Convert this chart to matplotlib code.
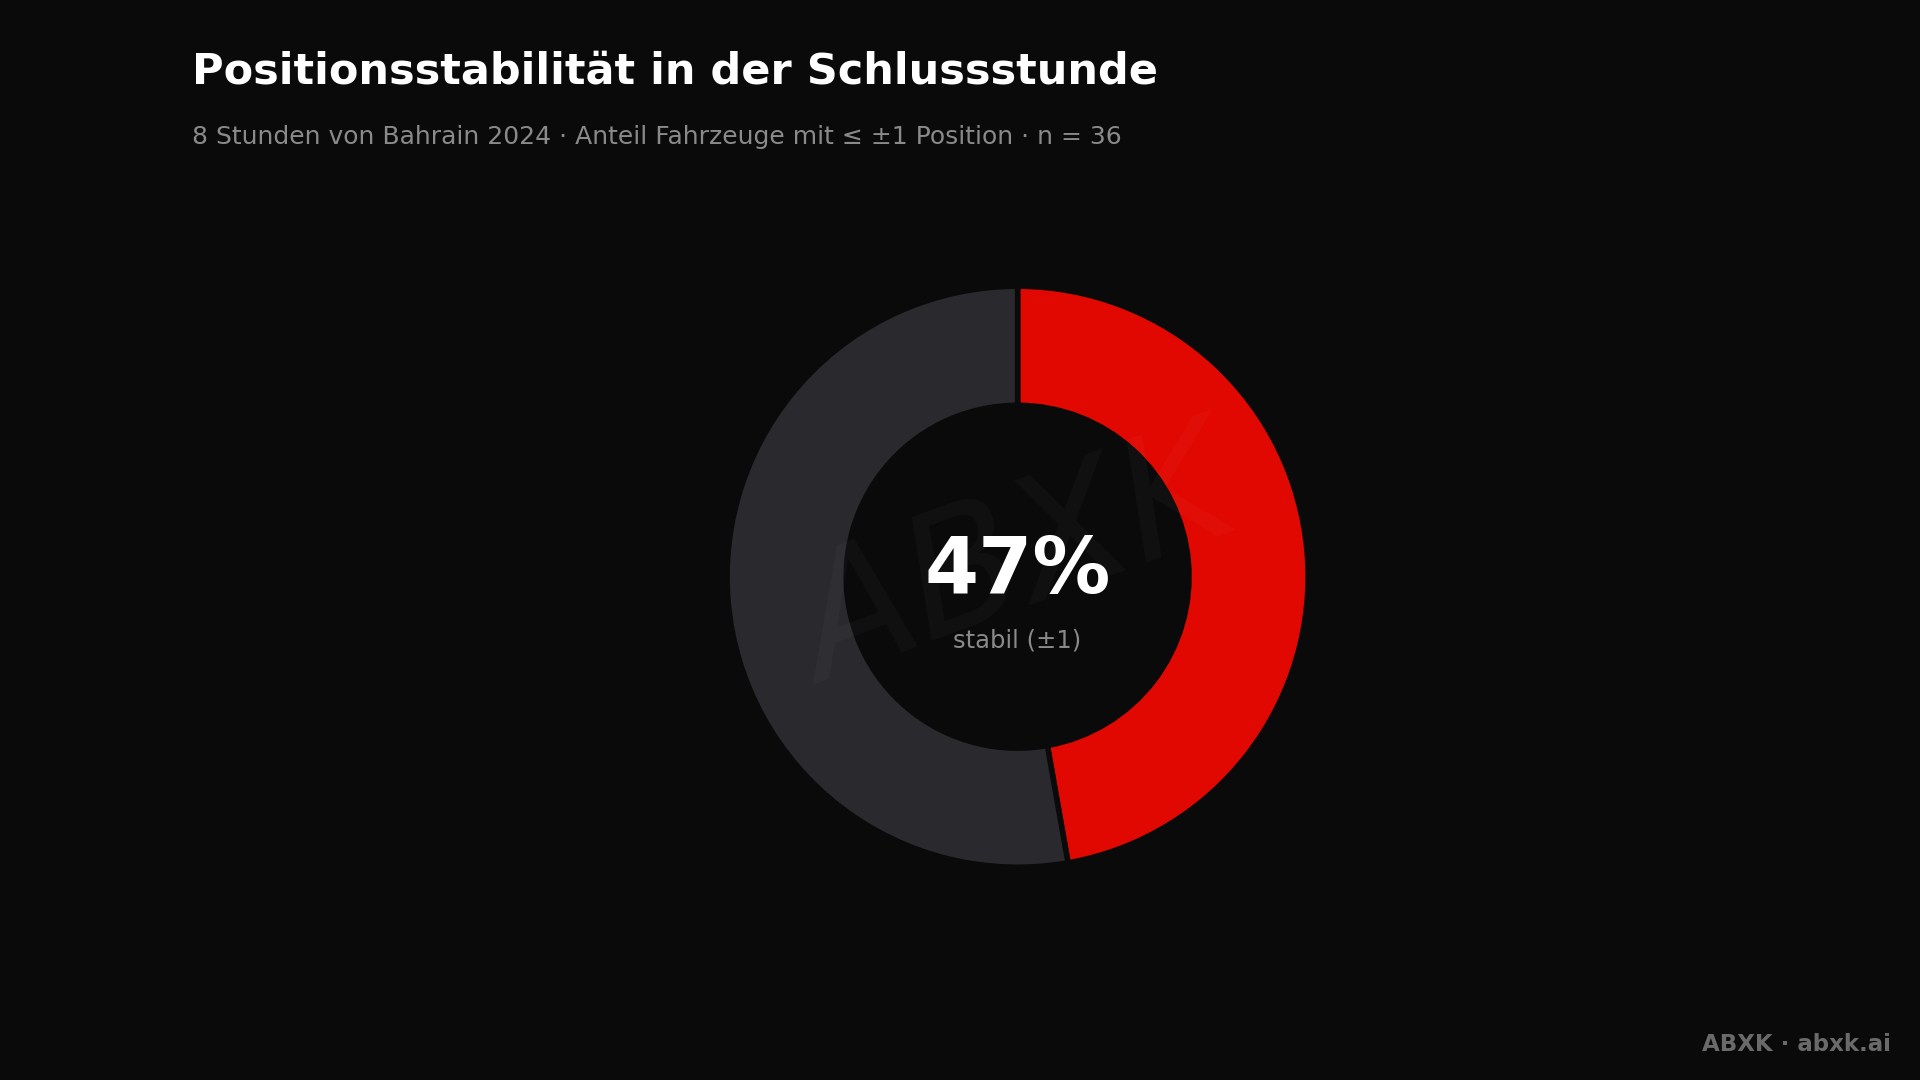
import matplotlib
matplotlib.use("Agg")
import matplotlib.pyplot as plt

labels = ["stabil (±1)", "instabil"]
counts = [17, 19]
colors = ["#e00800", "#2a292e"]
bg = "#0a0a0a"

r = 0.269
fig = plt.figure(figsize=(19.2, 10.8), dpi=100, facecolor=bg)
ax = fig.add_axes([0.53 - r * 1080 / 1920, 0.466 - r, 2 * r * 1080 / 1920, 2 * r])
ax.set_facecolor(bg)
ax.pie(counts, colors=colors, startangle=90, counterclock=False, radius=1.0,
       wedgeprops=dict(width=0.41, edgecolor=bg, linewidth=4))
ax.set_xlim(-1, 1)
ax.set_ylim(-1, 1)
ax.set_aspect("equal")
ax.axis("off")

# faint watermark
ax.text(0.0, 0.05, "ABXK", ha="center", va="center", fontsize=120, style="italic",
        color="white", alpha=0.03, rotation=20)

pct = round(100 * counts[0] / sum(counts))
ax.text(0, 0.02, f"{pct}%", ha="center", va="center", fontsize=56,
        fontweight="bold", color="white")
ax.text(0, -0.22, labels[0], ha="center", va="center", fontsize=17.5, color="#8a8a8a")

fig.text(0.1, 0.934, "Positionsstabilität in der Schlussstunde", fontsize=31,
         fontweight="bold", color="white", va="center")
fig.text(0.1, 0.873, "8 Stunden von Bahrain 2024 · Anteil Fahrzeuge mit ≤ ±1 Position · n = 36",
         fontsize=18, color="#8a8a8a", va="center")
fig.text(0.985, 0.033, "ABXK · abxk.ai", fontsize=16.5, fontweight="bold",
         color="#6a6a6a", ha="right", va="center")

fig.savefig("out.png", dpi=100, facecolor=bg)
